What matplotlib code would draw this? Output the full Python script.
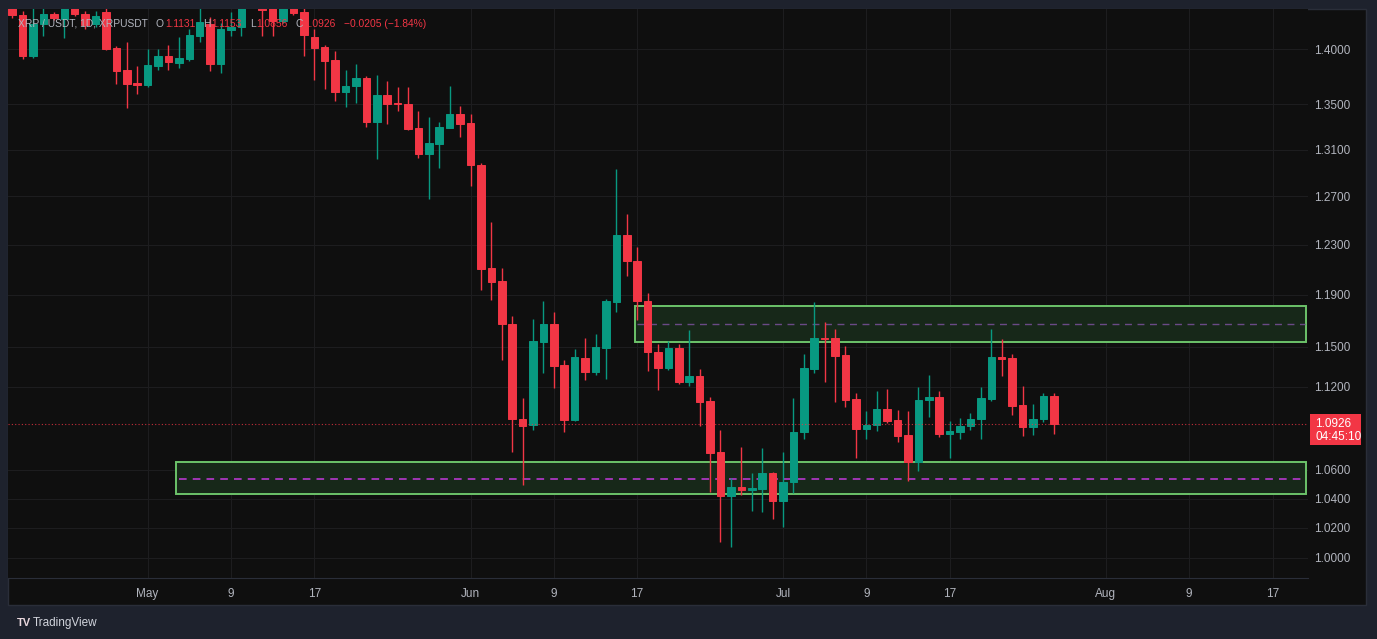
import matplotlib
matplotlib.use('Agg')
import matplotlib.pyplot as plt
import matplotlib.dates as mdates
from matplotlib.patches import Rectangle
from matplotlib.ticker import FixedLocator, NullLocator
import pandas as pd

plt.rcParams['font.family'] = ['Liberation Sans', 'DejaVu Sans']

# daily candles XRP/USDT, first candle on start_day
start_day = '2024-04-18'
opens = [1.445, 1.432, 1.3935, 1.4234, 1.4328, 1.4281, 1.442, 1.4328, 1.4234, 1.4347,
         1.4009, 1.3807, 1.3689, 1.3671, 1.3844, 1.3935, 1.3871, 1.3908, 1.4121, 1.4234,
         1.3862, 1.4178, 1.4206, 1.442, 1.4385, 1.440, 1.4262, 1.441, 1.4347, 1.4111,
         1.4018, 1.3899, 1.3607, 1.3661, 1.3734, 1.3340, 1.3580, 1.3508, 1.3500, 1.3287,
         1.3060, 1.3146, 1.3287, 1.3410, 1.3331, 1.2965, 1.2110, 1.2006, 1.1676, 1.0964,
         1.0920, 1.1538, 1.1676, 1.1363, 1.0957, 1.1416, 1.1311, 1.1492, 1.1847, 1.2377,
         1.2166, 1.1855, 1.1455, 1.1341, 1.1492, 1.1236, 1.1281, 1.1096, 1.0728, 1.0419,
         1.0482, 1.0461, 1.0468, 1.0579, 1.0385, 1.0516, 1.0871, 1.1333, 1.1568, 1.1568,
         1.1439, 1.1110, 1.0892, 1.0920, 1.1037, 1.0957, 1.0849, 1.0657, 1.1103, 1.1125,
         1.0856, 1.0871, 1.0913, 1.0964, 1.1110, 1.1424, 1.1416, 1.1066, 1.0906, 1.0964,
         1.1131]
highs = [1.452, 1.436, 1.440, 1.440, 1.435, 1.445, 1.447, 1.436, 1.436, 1.440,
         1.403, 1.4065, 1.3844, 1.4000, 1.4000, 1.4037, 1.4110, 1.4187, 1.440, 1.430,
         1.424, 1.4347, 1.447, 1.458, 1.445, 1.446, 1.446, 1.446, 1.440, 1.4187,
         1.4037, 1.3981, 1.3807, 1.3862, 1.3752, 1.3761, 1.3707, 1.3652, 1.3652, 1.3437,
         1.3384, 1.3340, 1.3661, 1.3482, 1.3410, 1.2980, 1.2484, 1.2110, 1.1738, 1.1118,
         1.1715, 1.1855, 1.1762, 1.1401, 1.1485, 1.1568, 1.1599, 1.1871, 1.2930, 1.2550,
         1.2279, 1.1911, 1.1523, 1.1545, 1.1523, 1.1630, 1.1333, 1.1125, 1.0885, 1.0544,
         1.0763, 1.0579, 1.0756, 1.0582, 1.0728, 1.1118, 1.1447, 1.1840, 1.1692, 1.1638,
         1.1507, 1.1155, 1.1023, 1.1170, 1.1184, 1.1030, 1.1023, 1.1199, 1.1288, 1.1170,
         1.0950, 1.0972, 1.1008, 1.1199, 1.1638, 1.1560, 1.1447, 1.1207, 1.1074, 1.1155,
         1.1153]
lows = [1.429, 1.391, 1.392, 1.4121, 1.427, 1.4102, 1.431, 1.4187, 1.421, 1.399,
        1.3680, 1.3464, 1.3589, 1.3652, 1.3807, 1.3807, 1.3825, 1.3890, 1.4065, 1.3798,
        1.3780, 1.4121, 1.4121, 1.439, 1.4121, 1.4121, 1.424, 1.432, 1.3935, 1.3716,
        1.3634, 1.3526, 1.3473, 1.3508, 1.3296, 1.3016, 1.3322, 1.3437, 1.3269, 1.3025,
        1.2676, 1.2939, 1.3287, 1.3207, 1.2786, 1.1942, 1.1863, 1.1401, 1.0728, 1.0495,
        1.0885, 1.1303, 1.1192, 1.0870, 1.0950, 1.1251, 1.1288, 1.1259, 1.1769, 1.2046,
        1.1707, 1.1318, 1.1177, 1.1326, 1.1222, 1.1207, 1.0913, 1.0447, 1.0107, 1.0073,
        1.0426, 1.0316, 1.0309, 1.0262, 1.0208, 1.0440, 1.0820, 1.1303, 1.1236, 1.1088,
        1.1052, 1.0685, 1.0820, 1.0878, 1.0935, 1.0799, 1.0523, 1.0593, 1.0979, 1.0835,
        1.0685, 1.0820, 1.0885, 1.0820, 1.1096, 1.1281, 1.0993, 1.0842, 1.0849, 1.0942,
        1.0856]
closes = [1.432, 1.3935, 1.4234, 1.4328, 1.4290, 1.440, 1.4328, 1.4225, 1.4309, 1.4000,
          1.3798, 1.3680, 1.3671, 1.3853, 1.3935, 1.3880, 1.3917, 1.4130, 1.4253, 1.3862,
          1.4187, 1.4206, 1.440, 1.452, 1.4366, 1.4262, 1.440, 1.4337, 1.4130, 1.4009,
          1.3890, 1.3607, 1.3661, 1.3734, 1.3340, 1.3580, 1.3500, 1.3500, 1.3278, 1.3060,
          1.3155, 1.3296, 1.3410, 1.3322, 1.2965, 1.2102, 1.1998, 1.1676, 1.0964, 1.0913,
          1.1545, 1.1676, 1.1356, 1.0957, 1.1424, 1.1311, 1.1500, 1.1855, 1.2377, 1.2166,
          1.1855, 1.1455, 1.1341, 1.1492, 1.1236, 1.1281, 1.1088, 1.0721, 1.0419, 1.0482,
          1.0461, 1.0475, 1.0579, 1.0385, 1.0516, 1.0871, 1.1341, 1.1568, 1.1560, 1.1431,
          1.1103, 1.0892, 1.0920, 1.1037, 1.0950, 1.0842, 1.0657, 1.1103, 1.1125, 1.0856,
          1.0878, 1.0913, 1.0964, 1.1118, 1.1424, 1.1409, 1.1059, 1.0906, 1.0964, 1.1131,
          1.0926]

price_ticks = [1.0, 1.02, 1.04, 1.06, 1.12, 1.15, 1.19, 1.23, 1.27, 1.31, 1.35, 1.40]
date_ticks = ['2024-05-01', '2024-05-09', '2024-05-17', '2024-06-01', '2024-06-09',
              '2024-06-17', '2024-07-01', '2024-07-09', '2024-07-17', '2024-08-01',
              '2024-08-09', '2024-08-17']
date_labels = ['May', '9', '17', 'Jun', '9', '17', 'Jul', '9', '17', 'Aug', '9', '17']

# supply / demand zones: start date, bottom, top, middle
upper_zone = ('2024-06-17', 1.1538, 1.1809, 1.1669)
lower_zone = ('2024-05-04', 1.0433, 1.0657, 1.0537)

last_price = 1.0926
countdown = '04:45:10'
header = [('XRP / USDT, 1D, XRPUSDT', 'grey'), ('O', 'grey'), ('1.1131', 'red'),
          ('H', 'grey'), ('1.1153', 'red'), ('L', 'grey'), ('1.0856', 'red'),
          ('C', 'grey'), ('1.0926', 'red'), ('\u22120.0205 (\u22121.84%)', 'red')]

UP = '#089981'
DOWN = '#f23645'
TXT = '#b2b5be'
W, H = 1377, 639

fig = plt.figure(figsize=(W / 100, H / 100), dpi=100, facecolor='#1e222d')
fig.patches.append(Rectangle((8 / W, 1 - 605 / H), 1358 / W, 596 / H, transform=fig.transFigure,
                             facecolor='#0f0f0f', edgecolor='#2a2e39', lw=1, zorder=-5))

ax = fig.add_axes([8 / W, 1 - 578 / H, 1300 / W, 569 / H])
ax.set_facecolor('#0f0f0f')

dates = pd.date_range(start_day, periods=len(opens), freq='D')
xs = mdates.date2num(dates)
x0 = xs[0]

for x, o, h, l, c in zip(xs, opens, highs, lows, closes):
    col = UP if c >= o else DOWN
    ax.vlines(x, l, h, color=col, lw=1, zorder=3)
    ax.bar(x, abs(c - o), bottom=min(o, c), width=0.72, color=col, edgecolor=col,
           lw=0.7, zorder=4)

xmin, xmax = x0 - 0.4, x0 + 124.4
ax.set_xlim(xmin, xmax)
ax.set_yscale('log')
ax.set_ylim(0.9868, 1.4376)

for start, lo, hi, mid in [upper_zone, lower_zone]:
    xs0 = mdates.date2num(pd.Timestamp(start)) - 0.25
    ax.add_patch(Rectangle((xs0, lo), xmax - 0.2 - xs0, hi - lo, facecolor='#172819',
                           edgecolor='#6cc36a', lw=1.4, zorder=2))
ax.hlines(upper_zone[3], mdates.date2num(pd.Timestamp(upper_zone[0])), xmax - 0.3,
          color='#6a4a86', lw=1, ls=(0, (5, 4)), zorder=2.5)
ax.hlines(lower_zone[3], mdates.date2num(pd.Timestamp(lower_zone[0])), xmax - 0.3,
          color='#c43ade', lw=1.1, ls=(0, (5, 4)), zorder=2.5)

ax.axhline(last_price, color=DOWN, lw=0.8, ls=(0, (1, 2)), alpha=0.8, zorder=5)

ax.yaxis.set_major_locator(FixedLocator(price_ticks))
ax.yaxis.set_minor_locator(NullLocator())
ax.set_yticklabels(['%.4f' % p for p in price_ticks])
ax.yaxis.tick_right()
tick_x = mdates.date2num(pd.to_datetime(date_ticks))
ax.set_xticks(tick_x)
ax.set_xticklabels(date_labels)
ax.tick_params(axis='both', length=0, colors=TXT, labelsize=8.5)
ax.tick_params(axis='y', pad=4)
ax.tick_params(axis='x', pad=7)
ax.grid(True, color='#1d1d1f', lw=0.8, zorder=0)
for s in ['top', 'left', 'right']:
    ax.spines[s].set_visible(False)
ax.spines['bottom'].set_color('#2a2e39')

# price label on the right scale
fig.canvas.draw()
renderer = fig.canvas.get_renderer()
yd = ax.transData.transform((x0, last_price))[1]
fig.patches.append(Rectangle((1310 / W, (yd - 21) / H), 51 / W, 31 / H, transform=fig.transFigure,
                             facecolor=DOWN, edgecolor='none', zorder=5))
fig.text(1315 / W, yd / H, '%.4f' % last_price, color='white', fontsize=8.5, va='center', zorder=6)
fig.text(1315 / W, (yd - 13) / H, countdown, color='white', fontsize=8.5, va='center', zorder=6)

# header legend
colmap = {'grey': TXT, 'red': DOWN}
xp = 18
for i, (s, c) in enumerate(header):
    t = fig.text(xp / W, 1 - 24 / H, s, color=colmap[c], fontsize=7.4, va='center', ha='left', zorder=6)
    bb = t.get_window_extent(renderer)
    nxt = header[i + 1][1] if i + 1 < len(header) else None
    xp = bb.x1 + (1 if (c == 'grey' and nxt == 'red') else 8)

fig.text(17 / W, 1 - 623 / H, 'TV', color='#e9d7dd', fontsize=8, fontweight='bold', va='center')
fig.text(33 / W, 1 - 623 / H, 'TradingView', color='#d1d4dc', fontsize=8.5, va='center')

fig.savefig('out.png', dpi=100, facecolor=fig.get_facecolor())
